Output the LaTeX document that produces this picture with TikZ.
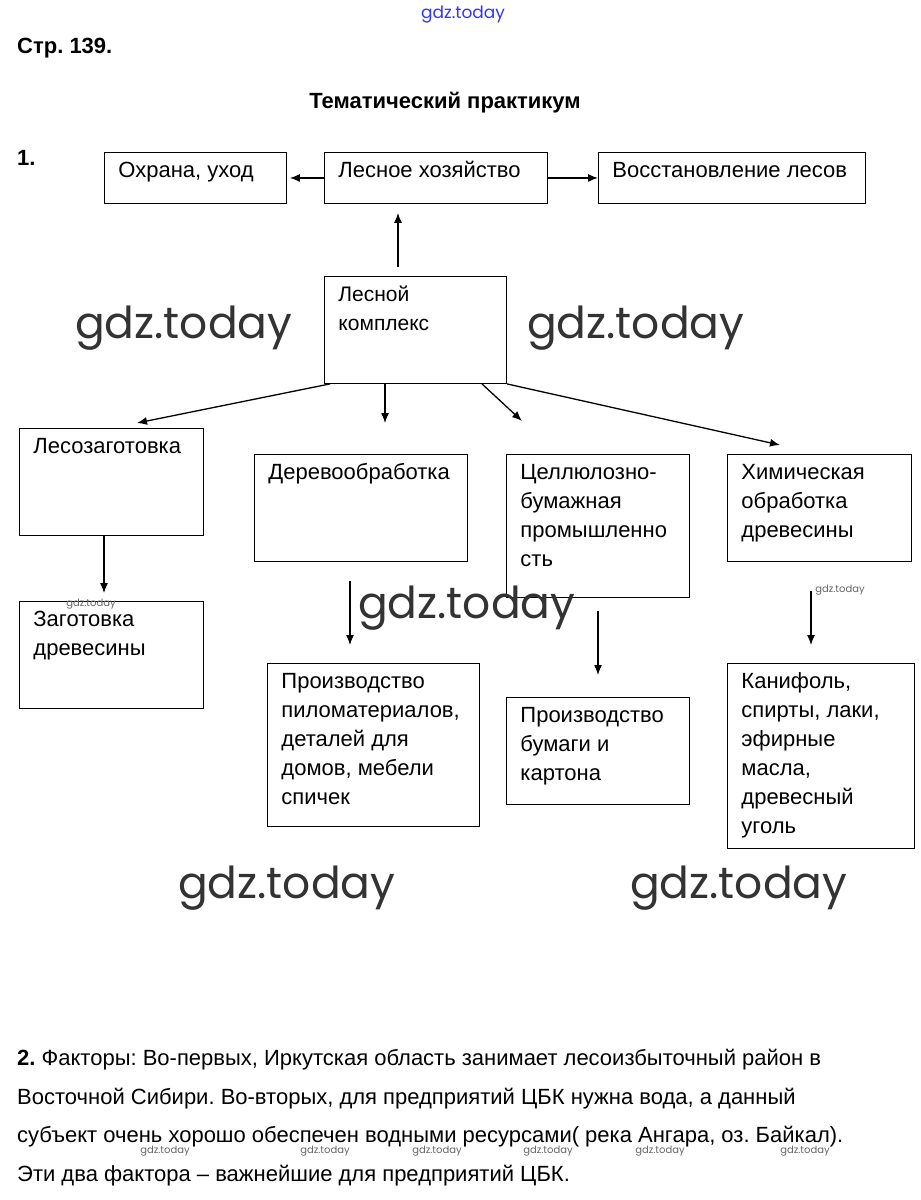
\documentclass[tikz,border=0pt]{standalone}
\usepackage{fontspec}
\setmainfont{Liberation Sans}
\newfontfamily\wmfont{Poppins}
\usetikzlibrary{arrows.meta,calc}
\frenchspacing

% box text: top aligned, first baseline 25pt below the frame
\newcommand{\bx}[3]{\parbox[t][#2][t]{#1}{\raggedright\rule{0pt}{25pt}#3}}

\begin{document}
\begin{tikzpicture}[x=1pt,y=-1pt,>={Latex[length=10pt,width=8pt]},
 font=\fontsize{22}{29}\selectfont,
 box/.style={draw,line width=0.9pt,anchor=north west,inner xsep=14pt,inner ysep=0pt},
 arr/.style={->,line width=1.3pt},
 txt/.style={anchor=base west,inner sep=0pt},
 wm/.style={anchor=base west,inner sep=0pt,font=\wmfont\fontsize{44}{44}\selectfont,text=black!80},
 wms/.style={anchor=base,inner sep=0pt,font=\wmfont\fontsize{10}{10}\selectfont,text=black!60}]
\useasboundingbox (0,0) rectangle (921,1200);
\node[txt,font=\bfseries\fontsize{22}{22}\selectfont] (page) at (17,53) {Стр. 139.};
\node[anchor=base,inner sep=0pt,font=\bfseries\fontsize{22}{22}\selectfont] (title) at (445,108) {Тематический практикум};
\node[txt,font=\bfseries\fontsize{22}{22}\selectfont] (n1) at (17,165) {1.};
% schema
\node[box] (ohr) at (104,152) {\bx{154pt}{51pt}{Охрана, уход}};
\node[box] (lhoz) at (324,152) {\bx{195pt}{51pt}{Лесное хозяйство}};
\node[box] (vost) at (598,152) {\bx{239pt}{51pt}{Восстановление лесов}};
\node[box,font=\fontsize{21}{29}\selectfont] (kompl) at (324,276) {\bx{154pt}{107pt}{Лесной\\комплекс}};
\node[box] (lzag) at (19,428) {\bx{156pt}{107pt}{Лесозаготовка}};
\node[box] (dobr) at (254,454) {\bx{185pt}{107pt}{Деревообработка}};
\node[box] (cbp) at (506,454) {\bx{155pt}{143pt}{Целлюлозно-\\бумажная\\промышленно\\сть}};
\node[box] (him) at (727,454) {\bx{156pt}{107pt}{Химическая\\обработка\\древесины}};
\node[box] (zag) at (19,601) {\bx{156pt}{107pt}{Заготовка\\древесины}};
\node[box] (pilo) at (267,663) {\bx{184pt}{163pt}{Производство\\пиломатериалов,\\деталей для\\домов, мебели\\спичек}};
\node[box] (bum) at (506,697) {\bx{155pt}{107pt}{Производство\\бумаги и\\картона}};
\node[box] (kan) at (727,663) {\bx{159pt}{185pt}{Канифоль,\\спирты, лаки,\\эфирные\\масла,\\древесный\\уголь}};
% arrows
\draw[arr,shorten >=3pt] (lhoz.west) -- (ohr.east);
\draw[arr] (lhoz.east) -- (vost.west);
\draw[arr] ([xshift=74pt,yshift=9pt]kompl.north west) -- ([xshift=74pt,yshift=-9pt]lhoz.south west);
\draw[arr] ([xshift=6pt]kompl.south west) -- ([xshift=118pt,yshift=5pt]lzag.north west);
\draw[arr] ([xshift=61pt]kompl.south west) -- ([xshift=131pt,yshift=31pt]dobr.north west);
\draw[arr] ([xshift=158pt]kompl.south west) -- ([xshift=16pt,yshift=33pt]cbp.north west);
\draw[arr] (kompl.south east) -- ([xshift=53pt,yshift=9pt]him.north west);
\draw[arr] ([xshift=85pt]lzag.south west) -- ([xshift=85pt,yshift=8pt]zag.north west);
\draw[arr] ([xshift=96pt,yshift=-19pt]dobr.south west) -- ([xshift=83pt,yshift=18pt]pilo.north west);
\draw[arr] ([xshift=92pt,yshift=-13pt]cbp.south west) -- ([xshift=92pt,yshift=22pt]bum.north west);
\draw[arr] ([xshift=84pt,yshift=-29pt]him.south west) -- ([xshift=84pt,yshift=18pt]kan.north west);
% answer 2
\node[anchor=north west,inner sep=0pt,align=left,font=\fontsize{22}{38.7}\selectfont] (ans) at (17,1049)
 {\textbf{2.} Факторы: Во-первых, Иркутская область занимает лесоизбыточный район в\\
 Восточной Сибири. Во-вторых, для предприятий ЦБК нужна вода, а данный\\
 субъект очень хорошо обеспечен водными ресурсами( река Ангара, оз. Байкал).\\
 Эти два фактора -- важнейшие для предприятий ЦБК.};
% watermarks
\node[anchor=base,inner sep=0pt,font=\wmfont\fontsize{17}{17}\selectfont,text=blue!80] (wtop) at (463,18) {gdz.today};
\node[wm] (w1) at (75,338) {gdz.today};
\node[wm] (w2) at (527,338) {gdz.today};
\node[wm] (w3) at (358,618) {gdz.today};
\node[wm] (w4) at (178,898) {gdz.today};
\node[wm] (w5) at (630,898) {gdz.today};
\node[wms] (s1) at (91,606) {gdz.today};
\node[wms] (s2) at (840,592) {gdz.today};
\foreach \x [count=\i] in {165,325,437,548,660,805}
 \node[wms] (b\i) at (\x,1153) {gdz.today};
\end{tikzpicture}
\end{document}
